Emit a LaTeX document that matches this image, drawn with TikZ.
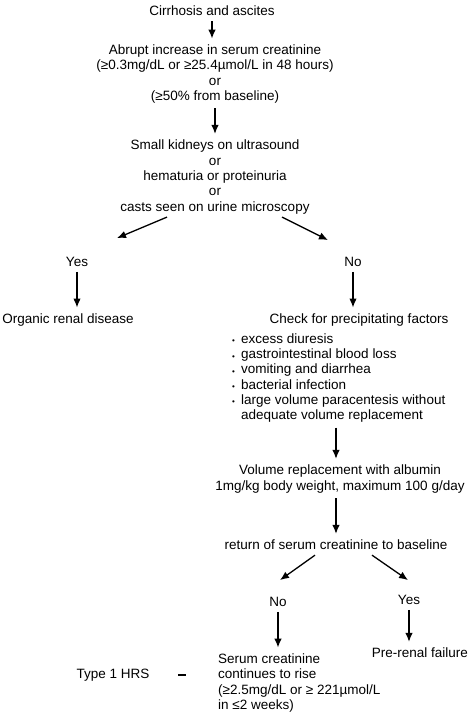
\documentclass[tikz,border=0pt]{standalone}
\usepackage{fontspec}
\setmainfont{Liberation Sans}
\usepackage{tikz}
\usetikzlibrary{positioning,calc,arrows.meta}

\newcommand{\bul}{\makebox[9pt][l]{\raisebox{-0.5pt}{\footnotesize\textbullet}}}

\begin{document}
\begin{tikzpicture}[x=1pt, y=-1pt,
  txt/.style={inner sep=0pt, align=center, font=\fontsize{13.5}{15.3}\selectfont},
  arr/.style={line width=1.3pt, -{Latex[length=9pt,width=7.5pt]}, shorten <=5pt, shorten >=6pt}]
  \useasboundingbox (0,0) rectangle (468,716);

  % Top of the chart
  \node[txt] (cirr) at (212,11) {Cirrhosis and ascites};
  \node[txt] (abrupt) at (215,74) {Abrupt increase in serum creatinine\\(≥0.3mg/dL or ≥25.4µmol/L in 48 hours)\\or\\(≥50\% from baseline)};
  \node[txt] (kidney) at (215,177) {Small kidneys on ultrasound\\or\\hematuria or proteinuria\\or\\casts seen on urine microscopy};
  \draw[arr] (cirr.south) -- (cirr.south |- abrupt.north);
  \draw[arr] (abrupt.south) -- (kidney.north);

  % First split
  \node[txt] (yes1) at (77,262) {Yes};
  \node[txt] (no1) at (353,262) {No};
  \draw[arr, shorten <=0pt, shorten >=0pt] ([shift={(-48,3)}]kidney.south) -- ([shift={(40,-19)}]yes1.north);
  \draw[arr, shorten <=0pt, shorten >=0pt] ([shift={(67,3)}]kidney.south) -- ([shift={(-25,-17)}]no1.north);

  \node[txt] (organic) at (68,320) {Organic renal disease};
  \node[txt] (check) at (359,320) {Check for precipitating factors};
  \draw[arr] (yes1.south) -- (yes1.south |- organic.north);
  \draw[arr] (no1.south) -- (no1.south |- check.north);

  % Precipitating factors
  \node[txt, anchor=west, align=left] (factors) at (232,378) {\bul excess diuresis\\
    \bul gastrointestinal blood loss\\
    \bul vomiting and diarrhea\\
    \bul bacterial infection\\
    \bul large volume paracentesis without\\
    \hphantom{\bul}adequate volume replacement};

  % Volume replacement
  \node[txt] (albumin) at (340,479) {Volume replacement with albumin\\1mg/kg body weight, maximum 100 g/day};
  \node[txt] (ret) at (336,545) {return of serum creatinine to baseline};
  \draw[arr] (factors.south -| ret.north) -- (ret.north |- albumin.north);
  \draw[arr] (albumin.south -| ret.north) -- (ret.north);

  % Second split
  \node[txt] (no2) at (278,602) {No};
  \node[txt] (yes2) at (409,600) {Yes};
  \draw[arr, shorten <=0pt, shorten >=0pt] ([shift={(-21,5)}]ret.south) -- ([shift={(2,-17)}]no2.north);
  \draw[arr, shorten <=0pt, shorten >=0pt] ([shift={(36,5)}]ret.south) -- ([shift={(-1,-15)}]yes2.north);

  \node[txt] (prerenal) at (420,653) {Pre-renal failure};
  \node[txt, anchor=west, align=left] (rise) at (218,683) {Serum creatinine\\continues to rise\\(≥2.5mg/dL or ≥ 221µmol/L\\in ≤2 weeks)};
  \draw[arr] (no2.south) -- (no2.south |- rise.north);
  \draw[arr] (yes2.south) -- (yes2.south |- prerenal.north);

  % Type 1 HRS
  \node[txt] (type1) at (113,675) {Type 1 HRS};
  \node[txt] (eq) at (182,675) {\rule{8pt}{1.8pt}};
\end{tikzpicture}
\end{document}
